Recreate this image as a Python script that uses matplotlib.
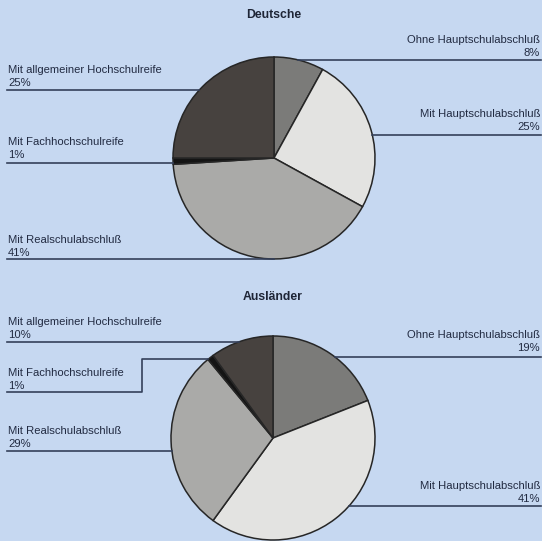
import matplotlib
matplotlib.use("Agg")
from matplotlib import pyplot as plt
import numpy as np

plt.rcParams['font.family'] = ['Liberation Sans', 'DejaVu Sans']

W, H = 542, 541

categories = ["Ohne Hauptschulabschluß", "Mit Hauptschulabschluß", "Mit Realschulabschluß",
              "Mit Fachhochschulreife", "Mit allgemeiner Hochschulreife"]
deutsche = [8, 25, 41, 1, 25]
auslaender = [19, 41, 29, 1, 10]
slice_colors = ["#7b7b79", "#e3e3e1", "#aaaaa8", "#141414", "#47423f"]

BG = "#c6d8f1"
LINE = "#34405a"
TEXT = "#222b42"
FS = 8.1


def Y(y):
    # pixel row from the top -> data y
    return H - y


def edge_x(cx, cy, r, y, side):
    dx = np.sqrt(max(r ** 2 - (y - cy) ** 2, 0))
    return cx + dx if side == "right" else cx - dx


def draw_block(ax, title, title_y, values, cx, cy, r, labels):
    ax.pie(values, colors=slice_colors, startangle=90, counterclock=False,
           center=(cx, Y(cy)), radius=r,
           wedgeprops=dict(edgecolor="#262626", linewidth=1.1))
    ax.text(cx, Y(title_y), title, ha="center", va="center",
            fontsize=8.8, fontweight="bold", color="#1e2536")
    for name, val, side, ty, ly, elbow in labels:
        if side == "left":
            ax.text(8, Y(ty), name, ha="left", va="center", fontsize=FS, color=TEXT)
            ax.text(8, Y(ty + 13), "{}%".format(val), ha="left", va="center",
                    fontsize=FS, color=TEXT)
            if elbow is None:
                xe = edge_x(cx, cy, r, ly, "left")
                ax.plot([7, xe], [Y(ly), Y(ly)], color=LINE, lw=1.2)
            else:
                ex, ey = elbow
                xe = edge_x(cx, cy, r, ey, "left")
                ax.plot([7, ex, ex, xe], [Y(ly), Y(ly), Y(ey), Y(ey)],
                        color=LINE, lw=1.2)
        else:
            ax.text(540, Y(ty), name, ha="right", va="center", fontsize=FS, color=TEXT)
            ax.text(540, Y(ty + 13), "{}%".format(val), ha="right", va="center",
                    fontsize=FS, color=TEXT)
            xe = edge_x(cx, cy, r, ly, "right")
            ax.plot([xe, 541], [Y(ly), Y(ly)], color=LINE, lw=1.2)


fig = plt.figure(figsize=(W / 100, H / 100), dpi=100, facecolor=BG)
ax = fig.add_axes([0, 0, 1, 1])
ax.set_facecolor(BG)

# (name, value, side, text y, line y, elbow)
top_labels = [
    (categories[0], deutsche[0], "right", 40, 60, None),
    (categories[1], deutsche[1], "right", 114, 135, None),
    (categories[2], deutsche[2], "left", 240, 259, None),
    (categories[3], deutsche[3], "left", 142, 163, None),
    (categories[4], deutsche[4], "left", 70, 90, None),
]
bottom_labels = [
    (categories[0], auslaender[0], "right", 335, 357, None),
    (categories[1], auslaender[1], "right", 486, 506, None),
    (categories[2], auslaender[2], "left", 431, 451, None),
    (categories[3], auslaender[3], "left", 373, 392, (142, 359)),
    (categories[4], auslaender[4], "left", 322, 342, None),
]

draw_block(ax, "Deutsche", 15, deutsche, 274, 158, 101, top_labels)
draw_block(ax, "Ausländer", 297, auslaender, 273, 438, 102, bottom_labels)

ax.set_xlim(0, W)
ax.set_ylim(0, H)
ax.set_aspect("equal")
ax.axis("off")

fig.savefig("out.png", dpi=100, facecolor=BG)
